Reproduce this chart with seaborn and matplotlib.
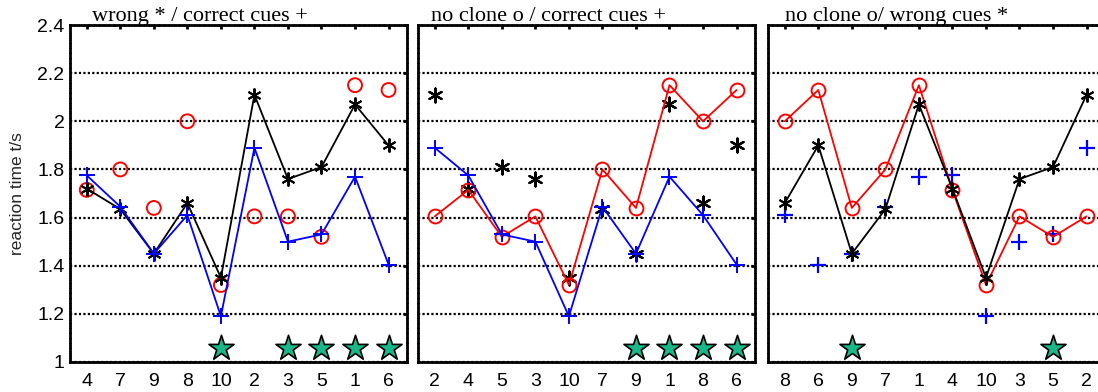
import numpy as np
import pandas as pd
import matplotlib
matplotlib.use("Agg")
import matplotlib.pyplot as plt
import seaborn as sns

# reaction times per condition (condition number -> value)
conditions = [1, 2, 3, 4, 5, 6, 7, 8, 9, 10]
wrong_cues   = [2.07, 2.11, 1.76, 1.72, 1.81, 1.90, 1.635, 1.66, 1.45, 1.35]   # black *
correct_cues = [1.77, 1.89, 1.50, 1.775, 1.53, 1.405, 1.645, 1.61, 1.45, 1.19]  # blue +
no_clone     = [2.15, 1.605, 1.605, 1.715, 1.52, 2.13, 1.80, 2.00, 1.64, 1.32]  # red o

# order of conditions along x in each panel
order1 = [4, 7, 9, 8, 10, 2, 3, 5, 1, 6]
order2 = [2, 4, 5, 3, 10, 7, 9, 1, 8, 6]
order3 = [8, 6, 9, 7, 1, 4, 10, 3, 5, 2]

# significance stars per panel
stars1 = [10, 3, 5, 1, 6]
stars2 = [9, 1, 8, 6]
stars3 = [9, 5]
star_level = 1.06

titles = ["wrong * / correct cues +", "no clone o / correct cues +", "no clone o/ wrong cues *"]

sns.set_theme(style="white")
plt.rcParams['font.family'] = ['Liberation Sans', 'DejaVu Sans']

ASTER = (6, 2, 0)
series = {
    "wrong": dict(vals=wrong_cues, color="black", marker=ASTER, ms=10),
    "correct": dict(vals=correct_cues, color="blue", marker="+", ms=11),
    "noclone": dict(vals=no_clone, color="red", marker="o", ms=10),
}

panels = [
    (order1, ["wrong", "correct"], ["noclone"], stars1, 0.065),
    (order2, ["noclone", "correct"], ["wrong"], stars2, 0.04),
    (order3, ["noclone", "wrong"], ["correct"], stars3, 0.05),
]

fig = plt.figure(figsize=(10.98, 3.92), dpi=100)
lefts = [70 / 1098, 418 / 1098, 768 / 1098]
W = 337 / 1098
B = 30 / 392
H = 337 / 392

lookup = {k: dict(zip(conditions, v["vals"])) for k, v in series.items()}
DOT = (0, (1, 1))

for i, (order, lined, scattered, stars, toff) in enumerate(panels):
    ax = fig.add_axes([lefts[i], B, W, H])
    pos = np.arange(len(order))
    for key in lined:
        s = series[key]
        y = [lookup[key][c] for c in order]
        df = pd.DataFrame({"x": pos, "y": y})
        kw = dict(marker=s["marker"], markersize=s["ms"], color=s["color"], linewidth=1.3,
                  sort=False, ax=ax, markeredgecolor=s["color"], markeredgewidth=1.4)
        if key == "noclone":
            kw.update(markerfacecolor="none")
        else:
            kw.update(markerfacecolor=s["color"])
        sns.lineplot(data=df, x="x", y="y", **kw)
    for key in scattered:
        s = series[key]
        y = [lookup[key][c] for c in order]
        df = pd.DataFrame({"x": pos, "y": y})
        if key == "noclone":
            sns.scatterplot(data=df, x="x", y="y", marker="o", s=s["ms"] ** 2, facecolors="none",
                            edgecolor="red", linewidth=1.4, ax=ax)
        else:
            sns.scatterplot(data=df, x="x", y="y", marker=s["marker"], s=s["ms"] ** 2,
                            color=s["color"], edgecolor=s["color"], linewidth=1.6, ax=ax)
    sx = [order.index(c) for c in stars]
    sdf = pd.DataFrame({"x": sx, "y": [star_level] * len(sx)})
    sns.scatterplot(data=sdf, x="x", y="y", marker="*", s=360, color="#17b98a",
                    edgecolor="black", linewidth=1.2, ax=ax, zorder=5)

    ax.set_xlim(-0.5, 9.55)
    ax.set_ylim(1.0, 2.4)
    ax.set_xticks(pos)
    ax.set_xticklabels([str(c) for c in order], fontsize=14)
    ax.set_yticks([1, 1.2, 1.4, 1.6, 1.8, 2, 2.2, 2.4])
    if i == 0:
        ax.set_yticklabels(["1", "1.2", "1.4", "1.6", "1.8", "2", "2.2", "2.4"], fontsize=14)
        ax.set_ylabel("reaction time t/s", fontsize=12.5, labelpad=9)
    else:
        ax.set_yticklabels([])
        ax.set_ylabel("")
    ax.set_xlabel("")
    ax.yaxis.grid(True, linestyle=DOT, color="black", linewidth=1.6)
    ax.xaxis.grid(False)
    ax.tick_params(axis="both", direction="in", top=True, right=True, length=3, width=2,
                   colors="black", labelcolor="black")
    ax.tick_params(axis="x", pad=8)
    ax.tick_params(axis="y", pad=4)
    for sp in ax.spines.values():
        sp.set_linestyle((0, (1, 0.8)))
        sp.set_linewidth(2.0)
        sp.set_color("black")
    ax.text(toff, 1.012, titles[i], transform=ax.transAxes, ha="left", va="baseline",
            fontsize=16, family=["Liberation Serif", "DejaVu Serif"], color="black")

fig.savefig("out.png", dpi=100)
